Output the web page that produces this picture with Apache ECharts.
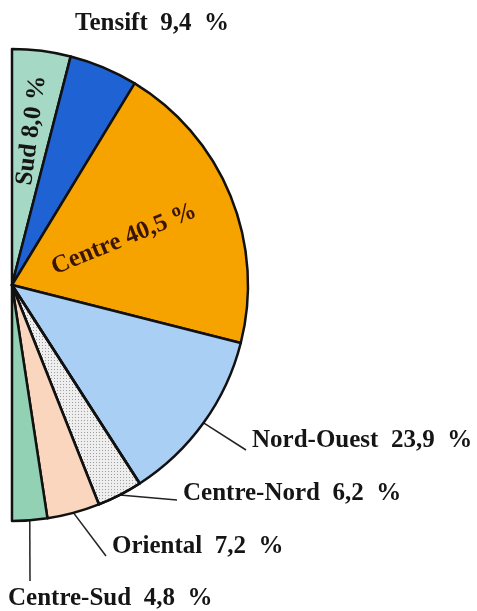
<!DOCTYPE html>
<html>
<head>
<meta charset="utf-8">
<script src="https://cdn.jsdelivr.net/npm/echarts@6/dist/echarts.min.js"></script>
<style>
  html, body { margin: 0; padding: 0; background: #fff; }
  #chart { width: 477px; height: 611px; }
</style>
</head>
<body>
<div id="chart"></div>
<script>
// regions, clockwise from the top of the half disc
var regions = ['Sud', 'Tensift', 'Centre', 'Nord-Ouest', 'Centre-Nord', 'Oriental', 'Centre-Sud'];
var shares = [8.0, 9.4, 40.5, 23.9, 6.2, 7.2, 4.8];
var fills = ['#a6d9c5', '#1f62d4', '#f6a300', '#a9d0f4', '#eeeeee', '#f9d6bd', '#92d1b3'];
var insideLabels = ['Sud', 'Centre'];

// where the outside labels sit: [x, y, align, line end x, line end y]
var spots = {
    'Tensift': [152, 24, 'center'],
    'Nord-Ouest': [252, 441, 'left', 246, 450],
    'Centre-Nord': [183, 494, 'left', 177, 500],
    'Oriental': [112, 547, 'left', 106, 556],
    'Centre-Sud': [8, 599, 'left', 30, 581]
};

var CX = 12, CY = 285, R = 236;
var font = '"Liberation Serif", "Times New Roman", serif';

function fmt(v, gap) {
    return v.toFixed(1).replace('.', ',') + gap + '%';
}

var chart = echarts.init(document.getElementById('chart'), null, { renderer: 'canvas' });

var data = regions.map(function(name, i) {
    var item = {
        name: name,
        value: shares[i],
        itemStyle: { color: fills[i] }
    };
    if (name === 'Centre-Nord') {
        item.itemStyle.decal = {
            symbol: 'rect',
            symbolSize: 1,
            color: 'rgba(60,60,60,0.45)',
            dashArrayX: [1, 2],
            dashArrayY: [1, 2],
            rotation: 0
        };
    }
    if (insideLabels.indexOf(name) >= 0) {
        item.label = {
            position: 'inside',
            rotate: 'radial',
            color: name === 'Centre' ? '#3a1408' : '#151515',
            formatter: function(p) {
                return p.name + ' ' + fmt(p.value, ' ');
            }
        };
        item.labelLine = { show: false };
    } else if (name === 'Tensift') {
        item.labelLine = { show: false };
    }
    return item;
});

chart.setOption({
    backgroundColor: '#ffffff',
    animation: false,
    series: [{
        type: 'pie',
        center: [CX, CY],
        radius: R,
        startAngle: 90,
        endAngle: -90,
        clockwise: true,
        avoidLabelOverlap: false,
        itemStyle: {
            borderColor: '#111',
            borderWidth: 2.5
        },
        label: {
            show: true,
            position: 'outside',
            fontFamily: font,
            fontWeight: 'bold',
            fontSize: 25,
            color: '#151515',
            formatter: function(p) {
                return p.name + '  ' + fmt(p.value, '  ');
            }
        },
        labelLine: {
            show: true,
            lineStyle: { color: '#222', width: 1.5 }
        },
        labelLayout: function(p) {
            var name = regions[p.dataIndex];
            if (name === 'Sud') {
                // push the text further out along the slice
                var a = (shares[0] / 2) / 100 * Math.PI;
                return { x: CX + R * 0.66 * Math.sin(a), y: CY - R * 0.66 * Math.cos(a) };
            }
            var s = spots[name];
            if (!s) return {};
            var out = { x: s[0], y: s[1], align: s[2], verticalAlign: 'middle' };
            if (s.length > 3 && p.labelLinePoints) {
                var start = p.labelLinePoints[0];
                out.labelLinePoints = [start, [s[3], s[4]], [s[3], s[4]]];
            }
            return out;
        },
        data: data
    }]
});
</script>
</body>
</html>
